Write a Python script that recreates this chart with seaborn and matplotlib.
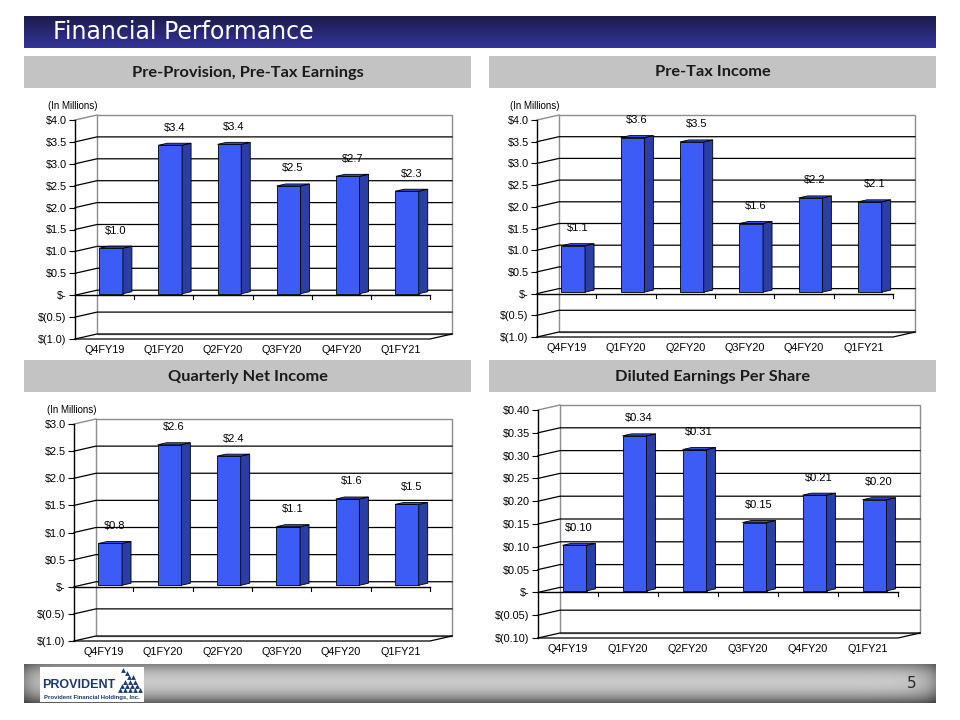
import numpy as np
import pandas as pd
import matplotlib
matplotlib.use("Agg")
import matplotlib.pyplot as plt
import seaborn as sns
from matplotlib.patches import Polygon, Rectangle

categories = ["Q4FY19", "Q1FY20", "Q2FY20", "Q3FY20", "Q4FY20", "Q1FY21"]
ppte = [1.04, 3.39, 3.41, 2.46, 2.68, 2.34]
pretax = [1.07, 3.56, 3.46, 1.58, 2.17, 2.08]
net_income = [0.77, 2.59, 2.38, 1.08, 1.59, 1.49]
eps = [0.10, 0.34, 0.31, 0.15, 0.21, 0.20]
section_titles = ["Pre-Provision, Pre-Tax Earnings", "Pre-Tax Income",
                  "Quarterly Net Income", "Diluted Earnings Per Share"]

FRONT = "#3c5cf5"
SIDE = "#2a3ea6"
TOP = "#3550dc"

plt.rcParams["font.family"] = ["Liberation Sans", "DejaVu Sans"]

fig = plt.figure(figsize=(9.6, 7.2), dpi=100)
fig.patch.set_facecolor("white")

# background layer in pixel coords (y down)
bg = fig.add_axes([0, 0, 1, 1], zorder=0)
bg.axis("off")

# title band
n = 64
t = np.linspace(0, 1, n)[:, None]
c_top = np.array([0x1c, 0x1c, 0x4c]) / 255
c_bot = np.array([0x34, 0x34, 0x9c]) / 255
grad = (c_top + (c_bot - c_top) * t).reshape(n, 1, 3)
bg.imshow(grad, extent=(24, 936, 48, 16), aspect="auto", interpolation="bilinear")
bg.text(53, 32, "Financial Performance", color="white", fontsize=17,
        family="DejaVu Sans", va="center", ha="left")

# footer band
tv = np.linspace(0, 1, 60)
vert = 0.79 - 0.42 * ((tv - 0.45) / 0.55) ** 2
xs = np.linspace(0, 912, 400)
horiz = 1 - 0.3 * np.exp(-xs / 12) - 0.3 * np.exp(-(912 - xs) / 12)
foot = np.clip(vert[:, None] * horiz[None, :], 0, 1)
bg.imshow(np.dstack([foot] * 3), extent=(24, 936, 703, 664), aspect="auto",
          interpolation="bilinear")
bg.text(912, 684, "5", fontsize=11, color="#2a2a2a", family="DejaVu Sans",
        ha="center", va="center")

# logo
bg.add_patch(Rectangle((40, 667), 104, 35, fc="white", ec="none"))
bg.text(42, 685, "PROVIDENT", fontsize=9, fontweight="bold",
        color="#1b3a6e", ha="left", va="center")
tri_x = [120, 125, 130, 135, 140, 122, 127, 132, 137, 125, 130, 135, 129, 133, 127, 123]
tri_y = [690, 690, 690, 690, 690, 686, 686, 686, 686, 682, 682, 682, 677, 677, 673, 670]
bg.scatter(tri_x, tri_y, marker="^", s=12, color="#1b3a6e", linewidths=0)
bg.text(92, 697, "Provident Financial Holdings, Inc.", fontsize=4.3,
        fontweight="bold", color="#1b3a6e", ha="center", va="center")

# section header boxes
boxes = [(24, 56, 471, 88), (489, 56, 936, 88), (24, 360, 471, 392), (489, 360, 936, 392)]
for (bx0, by0, bx1, by1), title in zip(boxes, section_titles):
    bg.add_patch(Rectangle((bx0, by0), bx1 - bx0, by1 - by0, fc="#c3c3c3", ec="none"))
    bg.text((bx0 + bx1) / 2, (by0 + by1) / 2 + 0.5, title, fontsize=11.8,
            family="Lato", fontweight="bold", color="#1a1a1a", ha="center", va="center")

bg.set_xlim(0, 960)
bg.set_ylim(720, 0)


def money(v, dec):
    if abs(v) < 1e-9:
        return "$-"
    if v < 0:
        return f"$({abs(v):.{dec}f})"
    return f"${v:.{dec}f}"


def draw_chart(box, values, ymin, ymax, step, dec, millions):
    x0, y0, x1, y1 = box
    W, H = x1 - x0, y1 - y0
    ax = fig.add_axes([x0 / 960, 1 - y1 / 720, W / 960, H / 720], zorder=2)
    sx = 6.0 / W
    sy = (ymax - ymin) / H
    bdx, bdy = 22 * sx, 5 * sy

    df = pd.DataFrame({"quarter": categories, "value": values})
    sns.barplot(data=df, x="quarter", y="value", ax=ax, color=FRONT, saturation=1,
                width=0.4, edgecolor="black", linewidth=0.6, zorder=2)
    bars = list(ax.containers[0])

    ticks = np.round(np.arange(ymin, ymax + step / 2, step), 4)

    # back wall and gridlines
    ax.add_patch(Rectangle((-0.5 + bdx, ymin + bdy), 6, ymax - ymin, fc="white",
                           ec="#8c8c8c", lw=1.0, zorder=0.5, clip_on=False))
    for tk in ticks[:-1]:
        ax.plot([-0.5, -0.5 + bdx, 5.5 + bdx], [tk, tk + bdy, tk + bdy],
                color="black", lw=0.9, zorder=0.6, clip_on=False)
    ax.plot([-0.5, -0.5 + bdx], [ymax, ymax + bdy], color="#8c8c8c", lw=1.0,
            zorder=0.6, clip_on=False)
    # floor front edge
    ax.plot([-0.5, 5.5, 5.5 + bdx], [ymin, ymin, ymin + bdy], color="black",
            lw=0.9, zorder=0.7, clip_on=False)
    # front value axis
    ax.plot([-0.5, -0.5], [ymin, ymax], color="black", lw=1.0, zorder=3, clip_on=False)

    # 3d bars
    ddx, ddy = 9 * sx, 2 * sy
    for bar, v in zip(bars, values):
        bar.set_x(bar.get_x() + 6.5 * sx)
        bar.set_y(bar.get_y() + 1.5 * sy)
        bx, by, bw = bar.get_x(), bar.get_y(), bar.get_width()
        top = by + bar.get_height()
        ax.add_patch(Polygon([(bx + bw, by), (bx + bw + ddx, by + ddy),
                              (bx + bw + ddx, top + ddy), (bx + bw, top)],
                             fc=SIDE, ec="black", lw=0.6, zorder=2))
        ax.add_patch(Polygon([(bx, top), (bx + bw, top), (bx + bw + ddx, top + ddy),
                              (bx + ddx, top + ddy)],
                             fc=TOP, ec="black", lw=0.6, zorder=2))
        ax.annotate(money(v, dec), (bx + bw / 2 + 4.5 * sx, top), xytext=(0, 9),
                    textcoords="offset points", ha="center", va="bottom", fontsize=8,
                    zorder=4)

    # category axis at zero
    ax.plot([-0.5, 5.5], [0, 0], color="black", lw=1.0, zorder=3, clip_on=False)
    for b in np.arange(0.5, 6, 1.0):
        ax.plot([b, b], [0, -4 * sy], color="black", lw=0.8, zorder=3, clip_on=False)

    ax.set_xlim(-0.5, 5.5)
    ax.set_ylim(ymin, ymax)
    ax.set_xlabel("")
    ax.set_ylabel("")
    for s in ax.spines.values():
        s.set_visible(False)
    ax.patch.set_visible(False)
    ax.set_yticks(ticks)
    ax.set_yticklabels([money(tk, dec) for tk in ticks])
    ax.tick_params(axis="y", length=4, width=0.8, pad=2, labelsize=7.8)
    ax.tick_params(axis="x", length=0, pad=4, labelsize=7.8)
    if millions:
        fig.text((x0 - 27) / 960, 1 - (y0 - 14) / 720, "(In Millions)", fontsize=7,
                 ha="left", va="center")
    return ax


draw_chart((75, 120, 430, 339), ppte, -1.0, 4.0, 0.5, 1, True)
draw_chart((537, 120, 893, 337), pretax, -1.0, 4.0, 0.5, 1, True)
draw_chart((74, 424, 430, 641), net_income, -1.0, 3.0, 0.5, 1, True)
draw_chart((538, 410, 898, 638), eps, -0.10, 0.40, 0.05, 2, False)

fig.savefig("out.png", dpi=100)
